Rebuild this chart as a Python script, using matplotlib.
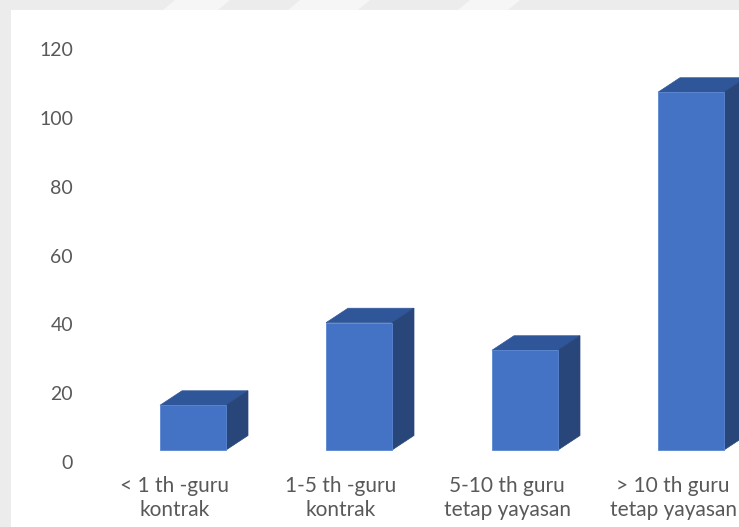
import matplotlib
matplotlib.use("Agg")
import matplotlib.pyplot as plt
from matplotlib.patches import Polygon, Rectangle
from matplotlib.transforms import ScaledTranslation

categories = ["< 1 th -guru\nkontrak", "1-5 th -guru\nkontrak",
              "5-10 th guru\ntetap yayasan", "> 10 th guru\ntetap yayasan"]
values = [13, 37, 29, 104]
yticks = [0, 20, 40, 60, 80, 100, 120]

W, H, DPI = 739, 527, 100
fig = plt.figure(figsize=(W / DPI, H / DPI), dpi=DPI)
fig.patch.set_facecolor("#ECECEC")

# decorative background: white chart area over a light gray frame
fig.patches.append(Rectangle((11 / W, 0), 1 - 11 / W, (H - 10) / H,
                             transform=fig.transFigure, facecolor="white",
                             edgecolor="none", zorder=0))
for (x0, x1) in [(175, 230), (300, 370), (470, 520)]:
    fig.patches.append(Polygon([(x0 / W, 1), (x1 / W, 1), ((x1 - 12) / W, (H - 10) / H),
                                ((x0 - 12) / W, (H - 10) / H)],
                               closed=True, transform=fig.transFigure,
                               facecolor="#F6F6F6", edgecolor="none", zorder=0))

# axes geometry (pixels)
ax_left, ax_right = 80, 739
ax_bottom_px, ax_top_px = 450, 20
ax = fig.add_axes([ax_left / W, (H - ax_bottom_px) / H,
                   (ax_right - ax_left) / W, (ax_bottom_px - ax_top_px) / H])
ax.set_facecolor("none")
ax.set_zorder(5)

px_per_cat = 166.0
px_per_unit = 3.44
first_center = 193
xlo = -(first_center - ax_left) / px_per_cat
xhi = xlo + (ax_right - ax_left) / px_per_cat
ax.set_xlim(xlo, xhi)
ax.set_ylim(0, (ax_bottom_px - ax_top_px) / px_per_unit)

bar_w = 66 / px_per_cat
ddx = 22 / px_per_cat
ddy = 14.5 / px_per_unit

front_c = "#4472C4"
top_c = "#30569A"
side_c = "#284679"

xs = list(range(len(categories)))
bars = ax.bar(xs, values, width=bar_w, color=front_c, edgecolor="#5B86D2",
              linewidth=0.6, zorder=3, clip_on=False)
for b, v in zip(bars, values):
    x0 = b.get_x()
    x1 = x0 + b.get_width()
    top = Polygon([(x0, v), (x1, v), (x1 + ddx, v + ddy), (x0 + ddx, v + ddy)],
                  closed=True, facecolor=top_c, edgecolor=top_c, linewidth=0.5,
                  zorder=2, clip_on=False)
    side = Polygon([(x1, 0), (x1 + ddx, ddy), (x1 + ddx, v + ddy), (x1, v)],
                   closed=True, facecolor=side_c, edgecolor=side_c, linewidth=0.5,
                   zorder=2, clip_on=False)
    ax.add_patch(top)
    ax.add_patch(side)

for s in ax.spines.values():
    s.set_visible(False)

label_color = "#595959"
ax.set_yticks(yticks)
ax.set_yticklabels([str(t) for t in yticks])
ax.tick_params(axis="y", length=0, pad=5, labelsize=14, labelcolor=label_color)
for lab in ax.get_yticklabels():
    lab.set_fontfamily("Lato")
    lab.set_transform(lab.get_transform() + ScaledTranslation(0, -12 / DPI, fig.dpi_scale_trans))

ax.set_xticks(xs)
ax.set_xticklabels(categories, linespacing=1.2)
ax.tick_params(axis="x", length=0, pad=19, labelsize=15, labelcolor=label_color)
for lab in ax.get_xticklabels():
    lab.set_fontfamily("Lato")
    lab.set_transform(lab.get_transform() + ScaledTranslation(-18 / DPI, 0, fig.dpi_scale_trans))

fig.savefig("out.png", dpi=DPI)
